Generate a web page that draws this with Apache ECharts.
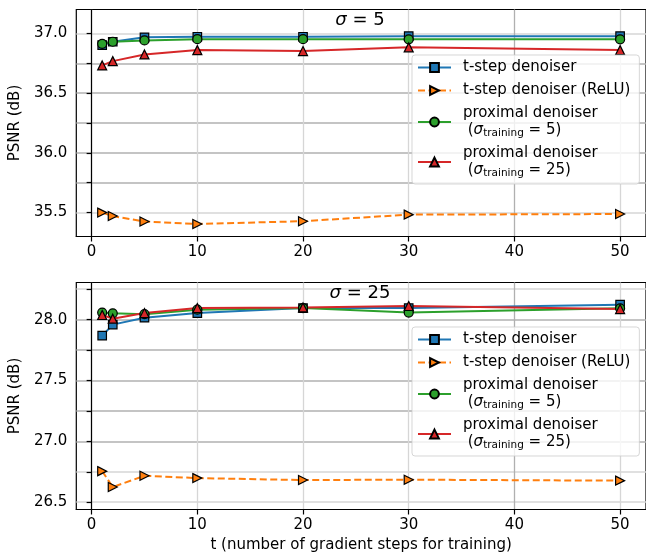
<!DOCTYPE html>
<html>
<head>
<meta charset="utf-8">
<script src="https://cdn.jsdelivr.net/npm/echarts@6/dist/echarts.min.js"></script>
<style>
html, body { margin: 0; padding: 0; background: #fff; }
#main { width: 646px; height: 555px; }
</style>
</head>
<body>
<div id="main"></div>
<script>
var steps = [1, 2, 5, 10, 20, 30, 50];
var names = ['t-step denoiser', 't-step denoiser (ReLU)', 'proximal denoiser (5)', 'proximal denoiser (25)'];

// sigma = 5
var tstep5 = [36.902, 36.930, 36.967, 36.972, 36.972, 36.977, 36.977];
var relu5 = [35.500, 35.471, 35.425, 35.405, 35.428, 35.483, 35.488];
var proxA5 = [36.913, 36.930, 36.941, 36.952, 36.952, 36.950, 36.950];
var proxB5 = [36.732, 36.768, 36.824, 36.860, 36.852, 36.883, 36.860];

// sigma = 25
var tstep25 = [27.868, 27.959, 28.016, 28.054, 28.095, 28.095, 28.123];
var relu25 = [26.755, 26.625, 26.717, 26.698, 26.682, 26.685, 26.677];
var proxA25 = [28.058, 28.052, 28.045, 28.082, 28.095, 28.058, 28.093];
var proxB25 = [28.038, 28.008, 28.054, 28.095, 28.100, 28.112, 28.087];

var xTicks = [0, 10, 20, 30, 40, 50];
var yTicks5 = [35.5, 35.75, 36, 36.25, 36.5, 36.75, 37];
var yLabels5 = [35.5, 36, 36.5, 37];
var yTicks25 = [26.5, 26.75, 27, 27.25, 27.5, 27.75, 28, 28.25];
var yLabels25 = [26.5, 27, 27.5, 28];

var FONT = 'DejaVu Sans';
var LIGHT = '#d6d6d6', DARK = '#b0b0b0';
var colors = ['#1f77b4', '#ff7f0e', '#2ca02c', '#d62728'];
var symbols = ['rect', 'path://M0,0L10,5L0,10Z', 'circle', 'triangle'];

function pairs(arr) {
    return steps.map(function (s, i) { return [s, arr[i]]; });
}

function makeSeries(idx, data, gi) {
    return {
        name: names[idx],
        type: 'line',
        xAxisIndex: gi,
        yAxisIndex: gi,
        data: pairs(data),
        symbol: symbols[idx],
        symbolSize: idx === 0 ? 8.5 : 9,
        showAllSymbol: true,
        color: colors[idx],
        lineStyle: { width: 2, color: colors[idx], type: idx === 1 ? [7, 3.5] : 'solid' },
        itemStyle: { color: colors[idx], borderColor: '#000', borderWidth: 1.2 },
        emphasis: { disabled: true }
    };
}

function legendLabel(name) {
    if (name === names[2]) return 'proximal denoiser\n {n|(}{i|σ}{sub|training}{n| = 5)}';
    if (name === names[3]) return 'proximal denoiser\n {n|(}{i|σ}{sub|training}{n| = 25)}';
    return name;
}

var richText = {
    n: { fontSize: 15, lineHeight: 17, fontFamily: FONT, color: '#000' },
    i: { fontSize: 15, lineHeight: 17, fontFamily: FONT, fontStyle: 'italic', color: '#000' },
    sub: { fontSize: 10.5, lineHeight: 8, verticalAlign: 'bottom', fontFamily: FONT, color: '#000' }
};

function makeLegend(top) {
    return {
        data: names,
        orient: 'vertical',
        left: 412,
        top: top,
        itemWidth: 33,
        itemHeight: 11,
        itemGap: 6,
        padding: [4, 9, 5, 5],
        backgroundColor: 'rgba(255,255,255,0.8)',
        borderColor: 'rgba(204,204,204,0.8)',
        borderWidth: 1,
        borderRadius: 3,
        selectedMode: false,
        formatter: legendLabel,
        textStyle: { fontSize: 15, lineHeight: 17, fontFamily: FONT, color: '#000', padding: [0, 0, 0, 7], rich: richText }
    };
}

function makeX(gi, withName) {
    return {
        type: 'value',
        gridIndex: gi,
        min: -1.45,
        max: 52.45,
        name: withName ? 't (number of gradient steps for training)' : '',
        nameLocation: 'middle',
        nameGap: 28,
        nameTextStyle: { fontSize: 15, fontFamily: FONT, color: '#000' },
        axisLine: { show: true, onZero: false, lineStyle: { color: '#000', width: 1.2 } },
        axisTick: { show: true, length: 5, customValues: xTicks, lineStyle: { color: '#000', width: 1.2 } },
        axisLabel: { customValues: xTicks, margin: 8, fontSize: 15, fontFamily: FONT, color: '#000' },
        splitLine: { show: true, lineStyle: { color: [LIGHT, LIGHT, LIGHT, LIGHT, DARK, LIGHT], width: 1.3 } }
    };
}

function makeY(gi, lo, hi, ticks, labels, lineColors) {
    return {
        type: 'value',
        gridIndex: gi,
        min: lo,
        max: hi,
        name: 'PSNR (dB)',
        nameLocation: 'middle',
        nameGap: 45,
        nameTextStyle: { fontSize: 15, fontFamily: FONT, color: '#000' },
        axisLine: { show: true, lineStyle: { color: '#000', width: 1.2 } },
        axisTick: { show: true, length: 5, customValues: ticks, lineStyle: { color: '#000', width: 1.2 } },
        axisLabel: {
            customValues: labels, margin: 9, fontSize: 15, fontFamily: FONT, color: '#000',
            formatter: function (v) { return v.toFixed(1); }
        },
        splitLine: { show: true, lineStyle: { color: lineColors, width: 1.5 } }
    };
}

function makeTitle(label, top) {
    return {
        text: '{i|σ}{n| = ' + label + '}', left: 360, top: top, textAlign: 'center', padding: 0,
        textStyle: {
            fontWeight: 'normal',
            rich: {
                i: { fontSize: 18, fontFamily: FONT, fontStyle: 'italic', fontWeight: 'normal', color: '#000' },
                n: { fontSize: 18, fontFamily: FONT, fontWeight: 'normal', color: '#000' }
            }
        }
    };
}

var option = {
    animation: false,
    backgroundColor: '#fff',
    title: [makeTitle('5', 11), makeTitle('25', 284)],
    legend: [makeLegend(55), makeLegend(327)],
    grid: [
        { left: 73, top: 9.5, width: 575, height: 227, show: true, borderColor: '#000', borderWidth: 1.2, backgroundColor: 'transparent' },
        { left: 73, top: 282.5, width: 575, height: 227, show: true, borderColor: '#000', borderWidth: 1.2, backgroundColor: 'transparent' }
    ],
    xAxis: [makeX(0, false), makeX(1, true)],
    yAxis: [
        makeY(0, 35.30, 37.20, yTicks5, yLabels5, [LIGHT, DARK, DARK, DARK, DARK, DARK, LIGHT]),
        makeY(1, 26.44, 28.305, yTicks25, yLabels25, [LIGHT, LIGHT, DARK, DARK, DARK, DARK, DARK, LIGHT])
    ],
    series: [
        makeSeries(0, tstep5, 0),
        makeSeries(1, relu5, 0),
        makeSeries(2, proxA5, 0),
        makeSeries(3, proxB5, 0),
        makeSeries(0, tstep25, 1),
        makeSeries(1, relu25, 1),
        makeSeries(2, proxA25, 1),
        makeSeries(3, proxB25, 1)
    ]
};

var chart = echarts.init(document.getElementById('main'));
chart.setOption(option);
window.addEventListener('resize', function () { chart.resize(); });
</script>
</body>
</html>
